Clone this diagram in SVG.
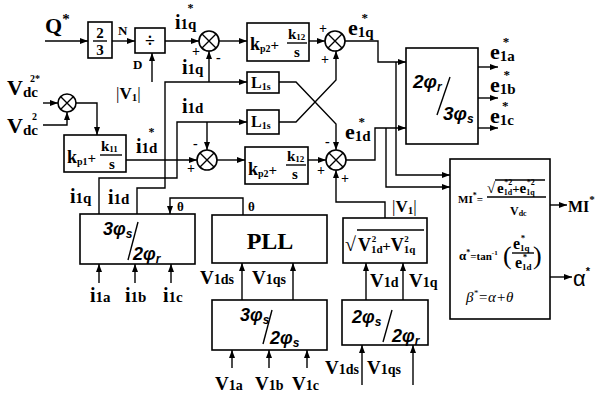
<svg xmlns="http://www.w3.org/2000/svg" width="595" height="393" viewBox="0 0 595 393">
<defs>
<marker id="ar" markerWidth="8" markerHeight="6" refX="8" refY="3" orient="auto" markerUnits="userSpaceOnUse">
<path d="M0,0 L8,3 L0,6 z" fill="#000"/>
</marker>
<style>
.blk{fill:#fff;stroke:#000;stroke-width:1.6}
.sum{fill:#fff;stroke:#000;stroke-width:1.6}
.w{fill:none;stroke:#000;stroke-width:1.4}
.e{fill:none;stroke:#000;stroke-width:1.4;marker-end:url(#ar)}
.t{font-family:"Liberation Serif",serif;font-weight:bold;fill:#000}
.s{font-family:"Liberation Sans",sans-serif;font-weight:bold;font-style:italic;fill:#000}
</style>
</defs>
<rect width="595" height="393" fill="#fff"/>

<g id="connectors">
<path class="e" d="M45,41 H88"/>
<path class="e" d="M112,41 H135"/>
<path class="e" d="M152,82 V53"/>
<path class="e" d="M165,41 H199"/>
<path class="e" d="M219,41 H247"/>
<path class="e" d="M309,41 H325"/>
<path class="e" d="M345,41 H378 V62 H406"/>
<path class="e" d="M396,62 V175 H450"/>
<path class="e" d="M478,67 H498"/>
<path class="e" d="M478,98 H498"/>
<path class="e" d="M478,128 H498"/>
<path class="e" d="M137,214 V188 H165 V82 H247"/>
<path class="e" d="M209,82 V51"/>
<path class="e" d="M99,214 V178 H177 V122 H247"/>
<path class="e" d="M207,122 V150"/>
<path class="e" d="M279,82 H296 L336,124 V150"/>
<path class="e" d="M279,122 H296 L336,80 V51"/>
<path class="e" d="M43,103 H58"/>
<path class="e" d="M43,125 H67 V112"/>
<path class="e" d="M76,103 H97 V135"/>
<path class="e" d="M126,160 H197"/>
<path class="e" d="M217,160 H245"/>
<path class="e" d="M308,160 H326"/>
<path class="e" d="M346,160 H375 V128 H406"/>
<path class="e" d="M386,128 V187 H450"/>
<path class="e" d="M385,218 V202 H336 V170"/>
<path class="e" d="M243,215 V198 H170 V214"/>
<path class="e" d="M99,283 V264"/>
<path class="e" d="M135,283 V264"/>
<path class="e" d="M171,283 V264"/>
<path class="e" d="M242,300 V263"/>
<path class="e" d="M293,300 V263"/>
<path class="e" d="M232,368 V350"/>
<path class="e" d="M269,368 V350"/>
<path class="e" d="M307,368 V350"/>
<path class="e" d="M366,300 V263"/>
<path class="e" d="M403,300 V263"/>
<path class="e" d="M362,385 V345"/>
<path class="e" d="M413,385 V345"/>
<path class="e" d="M550,205 H567"/>
<path class="e" d="M550,277 H572"/>
</g>

<g id="labels">
<text class="t" x="45" y="33" font-size="22">Q<tspan font-size="15" dy="-9">*</tspan></text>
<text class="t" x="118" y="35" font-size="13">N</text>
<text class="t" x="133" y="69" font-size="13">D</text>
<text class="t" x="116" y="99" font-size="17"><tspan font-weight="normal">|</tspan>V<tspan font-size="11" dy="2">1</tspan><tspan font-weight="normal" dy="-2">|</tspan></text>
<text class="t" x="175" y="29" font-size="20">i<tspan font-size="15">1q</tspan><tspan font-size="12" dx="-9" dy="-17">*</tspan></text>
<text class="t" x="182" y="74" font-size="20">i<tspan font-size="15">1q</tspan></text>
<text class="t" x="182" y="113" font-size="20">i<tspan font-size="15">1d</tspan></text>
<text class="t" x="136" y="153" font-size="20">i<tspan font-size="15">1d</tspan><tspan font-size="12" dx="-9" dy="-17">*</tspan></text>
<text class="t" x="348" y="35" font-size="22">e<tspan font-size="15" dy="2">1q</tspan><tspan font-size="13" dx="-12" dy="-15">*</tspan></text>
<text class="t" x="345" y="139" font-size="22">e<tspan font-size="15" dy="2">1d</tspan><tspan font-size="13" dx="-12" dy="-15">*</tspan></text>
<text class="t" x="490" y="59" font-size="22">e<tspan font-size="15" dy="2">1a</tspan><tspan font-size="13" dx="-12" dy="-15">*</tspan></text>
<text class="t" x="490" y="92" font-size="22">e<tspan font-size="15" dy="2">1b</tspan><tspan font-size="13" dx="-12" dy="-15">*</tspan></text>
<text class="t" x="490" y="123" font-size="22">e<tspan font-size="15" dy="2">1c</tspan><tspan font-size="13" dx="-12" dy="-15">*</tspan></text>
<text class="t" x="7" y="95" font-size="22">V<tspan font-size="15" dy="2">dc</tspan><tspan font-size="10" dx="-8" dy="-15">2*</tspan></text>
<text class="t" x="7" y="133" font-size="22">V<tspan font-size="15" dy="2">dc</tspan><tspan font-size="10" dx="-6" dy="-15">2</tspan></text>
<text class="t" x="70" y="203" font-size="20">i<tspan font-size="15">1q</tspan></text>
<text class="t" x="108" y="204" font-size="20">i<tspan font-size="15">1d</tspan></text>
<text class="t" x="177" y="211" font-size="13" font-weight="normal">θ</text>
<text class="t" x="248" y="211" font-size="13" font-weight="normal">θ</text>
<text class="t" x="90" y="302" font-size="20">i<tspan font-size="15">1a</tspan></text>
<text class="t" x="125" y="302" font-size="20">i<tspan font-size="15">1b</tspan></text>
<text class="t" x="163" y="302" font-size="20">i<tspan font-size="15">1c</tspan></text>
<text class="t" x="200" y="284" font-size="19">V<tspan font-size="14">1ds</tspan></text>
<text class="t" x="252" y="284" font-size="19">V<tspan font-size="14">1qs</tspan></text>
<text class="t" x="215" y="390" font-size="19">V<tspan font-size="14">1a</tspan></text>
<text class="t" x="255" y="390" font-size="19">V<tspan font-size="14">1b</tspan></text>
<text class="t" x="292" y="390" font-size="19">V<tspan font-size="14">1c</tspan></text>
<text class="t" x="370" y="287" font-size="19">V<tspan font-size="14">1d</tspan></text>
<text class="t" x="409" y="287" font-size="19">V<tspan font-size="14">1q</tspan></text>
<text class="t" x="325" y="374" font-size="19">V<tspan font-size="14">1ds</tspan></text>
<text class="t" x="367" y="374" font-size="19">V<tspan font-size="14">1qs</tspan></text>
<text class="t" x="392" y="212" font-size="17"><tspan font-weight="normal">|</tspan>V<tspan font-size="11" dy="2">1</tspan><tspan font-weight="normal" dy="-2">|</tspan></text>
<text class="t" x="568" y="212" font-size="16">MI<tspan font-size="11" dy="-9">*</tspan></text>
<text x="573" y="286" font-family="Liberation Sans,sans-serif" font-size="22">α<tspan font-size="11" font-weight="bold" dy="-11">*</tspan></text>
<text class="t" x="192" y="56" font-size="14">+</text>
<text class="t" x="216" y="62" font-size="14">-</text>
<text class="t" x="319" y="33" font-size="14">+</text>
<text class="t" x="321" y="64" font-size="14">+</text>
<text class="t" x="193" y="148" font-size="14">-</text>
<text class="t" x="187" y="173" font-size="14">+</text>
<text class="t" x="325" y="146" font-size="14">-</text>
<text class="t" x="317" y="175" font-size="14">+</text>
<text class="t" x="341" y="183" font-size="14">+</text>
</g>

<g id="n_2_3">
<rect class="blk" x="88" y="22" width="24" height="36"/>
<text class="t" x="100" y="38" font-size="15" text-anchor="middle">2</text>
<line class="w" x1="93" y1="41" x2="107" y2="41"/>
<text class="t" x="100" y="55" font-size="15" text-anchor="middle">3</text>
</g>
<g id="n_div">
<rect class="blk" x="135" y="28" width="30" height="25"/>
<text class="t" x="150" y="47" font-size="18" text-anchor="middle">÷</text>
</g>
<g id="sum1"><circle class="sum" cx="209" cy="41" r="10"/><path class="w" d="M202,34 L216,48 M216,34 L202,48"/></g>
<g id="sum2"><circle class="sum" cx="335" cy="41" r="10"/><path class="w" d="M328,34 L342,48 M342,34 L328,48"/></g>
<g id="sum3"><circle class="sum" cx="207" cy="160" r="10"/><path class="w" d="M200,153 L214,167 M214,153 L200,167"/></g>
<g id="sum4"><circle class="sum" cx="336" cy="160" r="10"/><path class="w" d="M329,153 L343,167 M343,153 L329,167"/></g>
<g id="sum_vdc"><circle class="sum" cx="67" cy="103" r="9"/><path class="w" d="M61,97 L73,109 M73,97 L61,109"/></g>

<g id="pi_q">
<rect class="blk" x="247" y="23" width="62" height="38"/>
<text class="t" x="250" y="50" font-size="18">k<tspan font-size="10" dy="2">p2</tspan><tspan font-size="15" dy="-2">+</tspan></text>
<text class="t" x="288" y="39" font-size="15">k<tspan font-size="9" dy="1">12</tspan></text>
<line class="w" x1="287" y1="43" x2="307" y2="43"/>
<text class="t" x="297" y="57" font-size="15" text-anchor="middle">s</text>
</g>
<g id="pi_d">
<rect class="blk" x="245" y="147" width="63" height="37"/>
<text class="t" x="248" y="175" font-size="18">k<tspan font-size="10" dy="2">p2</tspan><tspan font-size="15" dy="-2">+</tspan></text>
<text class="t" x="287" y="161" font-size="15">k<tspan font-size="9" dy="1">12</tspan></text>
<line class="w" x1="286" y1="165" x2="306" y2="165"/>
<text class="t" x="295" y="179" font-size="15" text-anchor="middle">s</text>
</g>
<g id="pi_dc">
<rect class="blk" x="64" y="135" width="62" height="37"/>
<text class="t" x="67" y="163" font-size="18">k<tspan font-size="10" dy="2">p1</tspan><tspan font-size="15" dy="-2">+</tspan></text>
<text class="t" x="101" y="151" font-size="15">k<tspan font-size="9" dy="1">11</tspan></text>
<line class="w" x1="100" y1="155" x2="122" y2="155"/>
<text class="t" x="112" y="169" font-size="15" text-anchor="middle">s</text>
</g>
<g id="L1">
<rect class="blk" x="247" y="72" width="32" height="21"/>
<text class="t" x="251" y="88" font-size="16">L<tspan font-size="10" dy="2">1s</tspan></text>
</g>
<g id="L2">
<rect class="blk" x="247" y="110" width="32" height="24"/>
<text class="t" x="251" y="127" font-size="16">L<tspan font-size="10" dy="2">1s</tspan></text>
</g>
<g id="t2r3s">
<rect class="blk" x="406" y="48" width="72" height="96"/>
<text class="s" x="413" y="88" font-size="19">2φ<tspan font-size="12" dy="3">r</tspan></text>
<line class="w" x1="450" y1="77" x2="437" y2="115"/>
<text class="s" x="443" y="120" font-size="19">3φ<tspan font-size="12" dy="3">s</tspan></text>
</g>
<g id="mi">
<rect class="blk" x="450" y="159" width="100" height="160"/>
<text class="t" x="458" y="203" font-size="11" font-weight="normal">MI<tspan font-size="8" dy="-5">*</tspan><tspan dy="5">=</tspan></text>
<text class="t" x="487" y="193" font-size="15" font-weight="normal">√</text>
<line class="w" x1="495" y1="180" x2="545" y2="180" stroke-width="1"/>
<text class="t" x="497" y="193" font-size="15">e<tspan font-size="8" dy="2">1d</tspan><tspan font-size="8" dx="-8" dy="-10">*2</tspan><tspan font-size="13" dy="8">+</tspan>e<tspan font-size="8" dy="2">1q</tspan><tspan font-size="8" dx="-8" dy="-10">*2</tspan></text>
<line class="w" x1="487" y1="197" x2="546" y2="197" stroke-width="1"/>
<text class="t" x="510" y="215" font-size="12">V<tspan font-size="8" dy="1">dc</tspan></text>
<text class="t" x="459" y="260" font-size="13" font-weight="normal">α<tspan font-size="8" dy="-5">*</tspan><tspan font-size="11" dy="5">=tan</tspan><tspan font-size="7" dy="-5">-1</tspan></text>
<text x="503" y="264" font-family="Liberation Serif,serif" font-size="26">(</text>
<text x="533" y="264" font-family="Liberation Serif,serif" font-size="26">)</text>
<text class="t" x="513" y="249" font-size="16">e<tspan font-size="9" dy="2">1q</tspan><tspan font-size="9" dx="-9" dy="-10">*</tspan></text>
<line class="w" x1="512" y1="253" x2="534" y2="253" stroke-width="1"/>
<text class="t" x="515" y="268" font-size="16">e<tspan font-size="9" dy="2">1d</tspan><tspan font-size="9" dx="-9" dy="-10">*</tspan></text>
<text x="466" y="302" font-family="Liberation Serif,serif" font-style="italic" font-size="15">β<tspan font-size="9" dy="-6">*</tspan><tspan dy="6">=α+θ</tspan></text>
</g>
<g id="t3s2r">
<rect class="blk" x="80" y="214" width="115" height="50"/>
<text class="s" x="103" y="235" font-size="18">3φ<tspan font-size="12" dy="3">s</tspan></text>
<line class="w" x1="138" y1="222" x2="128" y2="260"/>
<text class="s" x="133" y="260" font-size="18">2φ<tspan font-size="12" dy="3">r</tspan></text>
</g>
<g id="pll">
<rect class="blk" x="212" y="215" width="115" height="48"/>
<text class="t" x="270" y="249" font-size="24" text-anchor="middle">PLL</text>
</g>
<g id="t3s2s">
<rect class="blk" x="212" y="300" width="115" height="50"/>
<text class="s" x="240" y="321" font-size="18">3φ<tspan font-size="12" dy="3">s</tspan></text>
<line class="w" x1="272" y1="310" x2="263" y2="344"/>
<text class="s" x="270" y="344" font-size="18">2φ<tspan font-size="12" dy="3">s</tspan></text>
</g>
<g id="mag">
<rect class="blk" x="343" y="218" width="84" height="45"/>
<text class="t" x="345" y="251" font-size="20" font-weight="normal">√</text>
<line class="w" x1="357" y1="230" x2="424" y2="230" stroke-width="1.2"/>
<text class="t" x="358" y="251" font-size="18">V<tspan font-size="11" dy="2">1d</tspan><tspan font-size="9" dx="-11" dy="-11">2</tspan><tspan font-size="15" dx="6" dy="9">+</tspan>V<tspan font-size="11" dy="2">1q</tspan><tspan font-size="9" dx="-11" dy="-11">2</tspan></text>
</g>
<g id="t2s2r">
<rect class="blk" x="342" y="300" width="86" height="45"/>
<text class="s" x="352" y="323" font-size="18">2φ<tspan font-size="12" dy="3">s</tspan></text>
<line class="w" x1="392" y1="310" x2="383" y2="342"/>
<text class="s" x="392" y="342" font-size="18">2φ<tspan font-size="12" dy="3">r</tspan></text>
</g>
</svg>
